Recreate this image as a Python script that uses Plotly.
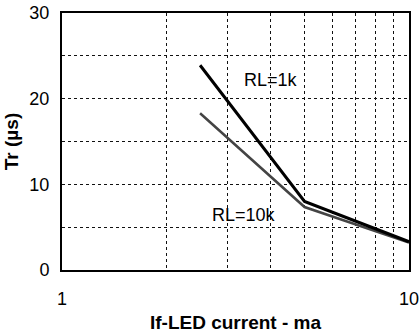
import plotly.graph_objects as go

# Data
current_ma = [2.5, 5.0, 10.0]
tr_rl1k = [23.9, 8.0, 3.3]
tr_rl10k = [18.3, 7.35, 3.2]

x_tickvals = [1, 2, 3, 4, 5, 6, 7, 8, 9, 10]
x_ticktext = ["1", "", "", "", "", "", "", "", "", "10"]
y_tickvals = [0, 5, 10, 15, 20, 25, 30]
y_ticktext = ["0", "", "10", "", "20", "", "30"]

FONT = "Liberation Sans, Arial, sans-serif"

fig = go.Figure()
fig.add_trace(go.Scatter(x=current_ma, y=tr_rl10k, mode="lines",
                         line=dict(color="#444444", width=2.5), name="RL=10k"))
fig.add_trace(go.Scatter(x=current_ma, y=tr_rl1k, mode="lines",
                         line=dict(color="#000000", width=3), name="RL=1k"))

fig.add_annotation(x=0.602, y=22.2, xref="x", yref="y", text="RL=1k", showarrow=False,
                   font=dict(family=FONT, size=18, color="#000"))
fig.add_annotation(x=0.525, y=6.4, xref="x", yref="y", text="RL=10k", showarrow=False,
                   font=dict(family=FONT, size=18, color="#000"))

fig.update_layout(
    width=419, height=334,
    margin=dict(l=62, r=10, t=13, b=64),
    paper_bgcolor="white", plot_bgcolor="white",
    showlegend=False,
    font=dict(family=FONT, size=18, color="#000"),
    xaxis=dict(
        type="log", range=[0, 1], automargin=False,
        tickvals=x_tickvals, ticktext=x_ticktext,
        showgrid=True, gridcolor="#111", griddash="dot", gridwidth=1,
        showline=True, mirror=True, linecolor="#000", linewidth=2,
        ticks="", ticklabelstandoff=11, ticklabeloverflow="allow", zeroline=False,
        title=dict(text="<b>If-LED current - ma</b>", standoff=8,
                   font=dict(size=19)),
    ),
    yaxis=dict(
        range=[0, 30], automargin=False,
        tickvals=y_tickvals, ticktext=y_ticktext,
        showgrid=True, gridcolor="#111", griddash="dot", gridwidth=1,
        showline=True, mirror=True, linecolor="#000", linewidth=2,
        ticks="", ticklabelstandoff=7, zeroline=False,
        title=dict(text="<b>Tr (µs)</b>", standoff=6, font=dict(size=19)),
    ),
)

fig.write_html("out.html", config={"displayModeBar": False},
               post_script="document.body.style.margin='0px';")
